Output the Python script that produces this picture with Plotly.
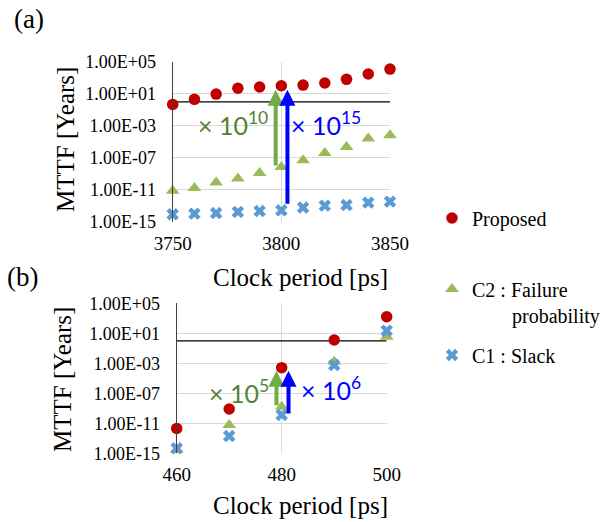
import numpy as np
import plotly.graph_objects as go

# ---------------- data ----------------
x_a = [3750, 3760, 3770, 3780, 3790, 3800, 3810, 3820, 3830, 3840, 3850]
proposed_a = [4.7e-1, 2.0e0, 9.1e0, 4.8e1, 6.9e1, 1.0e2, 1.2e2, 2.2e2, 6.3e2, 2.9e3, 1.2e4]
c2_a = [7.9e-12, 1.8e-11, 8.3e-11, 2.6e-10, 1.3e-9, 7.4e-9, 5.1e-8, 4.2e-7, 2.3e-6, 2.6e-5, 6.9e-5]
c1_a = [9.1e-15, 1.1e-14, 1.3e-14, 1.8e-14, 2.3e-14, 2.9e-14, 6.3e-14, 1.1e-13, 1.3e-13, 2.6e-13, 3.5e-13]

x_b = [460, 470, 480, 490, 500]
proposed_b = [2.1e-12, 8.1e-10, 2.6e-4, 1.3e0, 1.6e3]
c2_b = [2.8e-15, 5.9e-12, 1.6e-9, 1.6e-3, 3.5e0]
c1_b = [4.7e-15, 2.0e-13, 1.3e-10, 5.9e-4, 2.2e1]

target_mttf = 1.0  # years (horizontal reference line)

y_tickvals = [1e-15, 1e-11, 1e-7, 1e-3, 1e1, 1e5]
y_ticktext = ["1.00E-15", "1.00E-11", "1.00E-07", "1.00E-03", "1.00E+01", "1.00E+05"]

series_names = ["Proposed", "C2 : Failure<br>\u00a0\u00a0\u00a0\u00a0\u00a0\u00a0\u00a0\u00a0probability", "C1 : Slack"]
gain_a = ["\u00d7 10<sup>10</sup>", "\u00d7 10<sup>15</sup>"]
gain_b = ["\u00d7 10<sup>5</sup>", "\u00d7 10<sup>6</sup>"]
focus_a = 3800
focus_b = 480

# ---------------- style ----------------
RED = "#c00000"
GREEN = "#9bbb59"
BLUE = "#5b9bd5"
ARROW_GREEN = "#70ad47"
TEXT_GREEN = "#548235"
ARROW_BLUE = "#0000ff"
GRID = "#d9d9d9"
SERIF = "Liberation Serif"
SANS = "Lato"

W, H = 610, 522


def px_x(p):
    return p / W


def px_y(p):
    return 1 - p / H


fig = go.Figure()
fig.update_layout(template="none")

panels = [
    dict(x=x_a, p=proposed_a, c2=c2_a, c1=c1_a, xa="x", ya="y", show=True),
    dict(x=x_b, p=proposed_b, c2=c2_b, c1=c1_b, xa="x2", ya="y2", show=False),
]

for pn in panels:
    xs = pn["x"]
    fig.add_trace(go.Scatter(x=[xs[0], xs[-1]], y=[target_mttf, target_mttf], mode="lines",
                             line=dict(color="black", width=1.3), showlegend=False,
                             hoverinfo="skip", xaxis=pn["xa"], yaxis=pn["ya"], cliponaxis=False))
    fig.add_trace(go.Scatter(x=xs, y=pn["p"], mode="markers", name=series_names[0],
                             marker=dict(symbol="circle", size=11.5, color=RED, line=dict(width=0)),
                             showlegend=pn["show"], legend="legend",
                             xaxis=pn["xa"], yaxis=pn["ya"], cliponaxis=False))
    fig.add_trace(go.Scatter(x=xs, y=pn["c2"], mode="markers", name=series_names[1],
                             marker=dict(symbol="triangle-up", size=12, color=GREEN, line=dict(width=0)),
                             showlegend=pn["show"], legend="legend2",
                             xaxis=pn["xa"], yaxis=pn["ya"], cliponaxis=False))
    fig.add_trace(go.Scatter(x=xs, y=pn["c1"], mode="markers", name=series_names[2],
                             marker=dict(symbol="x", size=11, color=BLUE, line=dict(width=0)),
                             showlegend=pn["show"], legend="legend3",
                             xaxis=pn["xa"], yaxis=pn["ya"], cliponaxis=False))

# ----- axes -----
ax_common = dict(showgrid=True, gridcolor=GRID, gridwidth=1, zeroline=False, ticks="",
                 showline=False, automargin=False,
                 tickfont=dict(family=SERIF, size=19, color="black"))
ay_common = dict(type="log", range=[-15, 5], tickmode="array", tickvals=y_tickvals, ticktext=y_ticktext,
                 showgrid=True, gridcolor=GRID, gridwidth=1, zeroline=False, ticks="",
                 showline=True, linecolor="#404040", linewidth=1.3, automargin=False,
                 tickfont=dict(family=SERIF, size=18, color="black"), ticklabelstandoff=12)

fig.update_layout(
    xaxis=dict(domain=[px_x(172.7), px_x(390)], range=[3750, 3850], dtick=50, anchor="y",
               ticklabelstandoff=8, **ax_common),
    yaxis=dict(domain=[px_y(222), px_y(61.7)], anchor="x", **ay_common),
    xaxis2=dict(domain=[px_x(176.7), px_x(386.7)], range=[460, 500], dtick=20, anchor="y2",
                ticklabelstandoff=8, **ax_common),
    yaxis2=dict(domain=[px_y(453.3), px_y(303.3)], anchor="x2", **ay_common),
)

# ----- arrows -----
def add_arrow(xref, yref, x, y_from, y_to, color, standoff, startstandoff):
    fig.add_annotation(x=x, y=np.log10(y_to), ax=x, ay=np.log10(y_from),
                       xref=xref, yref=yref, axref=xref, ayref=yref,
                       text="", showarrow=True, arrowhead=2, arrowsize=0.8, arrowwidth=4,
                       arrowcolor=color, standoff=standoff, startstandoff=startstandoff)

ia = x_a.index(focus_a)
add_arrow("x", "y", focus_a - 2.6, c2_a[ia], proposed_a[ia], ARROW_GREEN, 4, 0)
add_arrow("x", "y", focus_a + 2.8, c1_a[ia], proposed_a[ia], ARROW_BLUE, 4, 5)
ib = x_b.index(focus_b)
add_arrow("x2", "y2", focus_b - 1.0, c2_b[ib], proposed_b[ib], ARROW_GREEN, 3, 0)
add_arrow("x2", "y2", focus_b + 1.3, c1_b[ib], proposed_b[ib], ARROW_BLUE, 3, 0)

# gain labels (positioned in paper coordinates)
def label(text, cx, cy, color, size=24, family=SANS, angle=0):
    fig.add_annotation(text=text, x=px_x(cx), y=px_y(cy), xref="paper", yref="paper",
                       showarrow=False, xanchor="center", yanchor="middle", textangle=angle,
                       font=dict(family=family, size=size, color=color))

label(gain_a[0], 233, 123, TEXT_GREEN, size=25)
label(gain_a[1], 326, 123, ARROW_BLUE, size=25)
label(gain_b[0], 239, 391, TEXT_GREEN, size=25)
label(gain_b[1], 331, 388, ARROW_BLUE, size=25)

# titles and panel labels
label("(a)", 29, 19, "black", size=27, family=SERIF)
label("(b)", 22, 277, "black", size=27, family=SERIF)
label("Clock period [ps]", 300, 277, "black", size=25, family=SERIF)
label("Clock period [ps]", 300, 505, "black", size=25, family=SERIF)
label("MTTF [Years]", 65, 140, "black", size=25, family=SERIF, angle=-90)
label("MTTF [Years]", 62, 380, "black", size=25, family=SERIF, angle=-90)

leg_common = dict(font=dict(family=SERIF, size=20, color="black"), bgcolor="rgba(0,0,0,0)",
                  borderwidth=0, xanchor="left", yanchor="middle", itemwidth=30, valign="top",
                  xref="container", yref="container")
fig.update_layout(
    legend=dict(x=px_x(432), y=px_y(218), **leg_common),
    legend2=dict(x=px_x(432), y=px_y(302), **leg_common),
    legend3=dict(x=px_x(432), y=px_y(355), **leg_common),
)

fig.update_layout(width=W, height=H, margin=dict(l=0, r=0, t=0, b=0, autoexpand=False),
                  paper_bgcolor="white", plot_bgcolor="white")

fig.write_html("out.html", config={"displayModeBar": False},
               post_script="document.body.style.margin='0';")
